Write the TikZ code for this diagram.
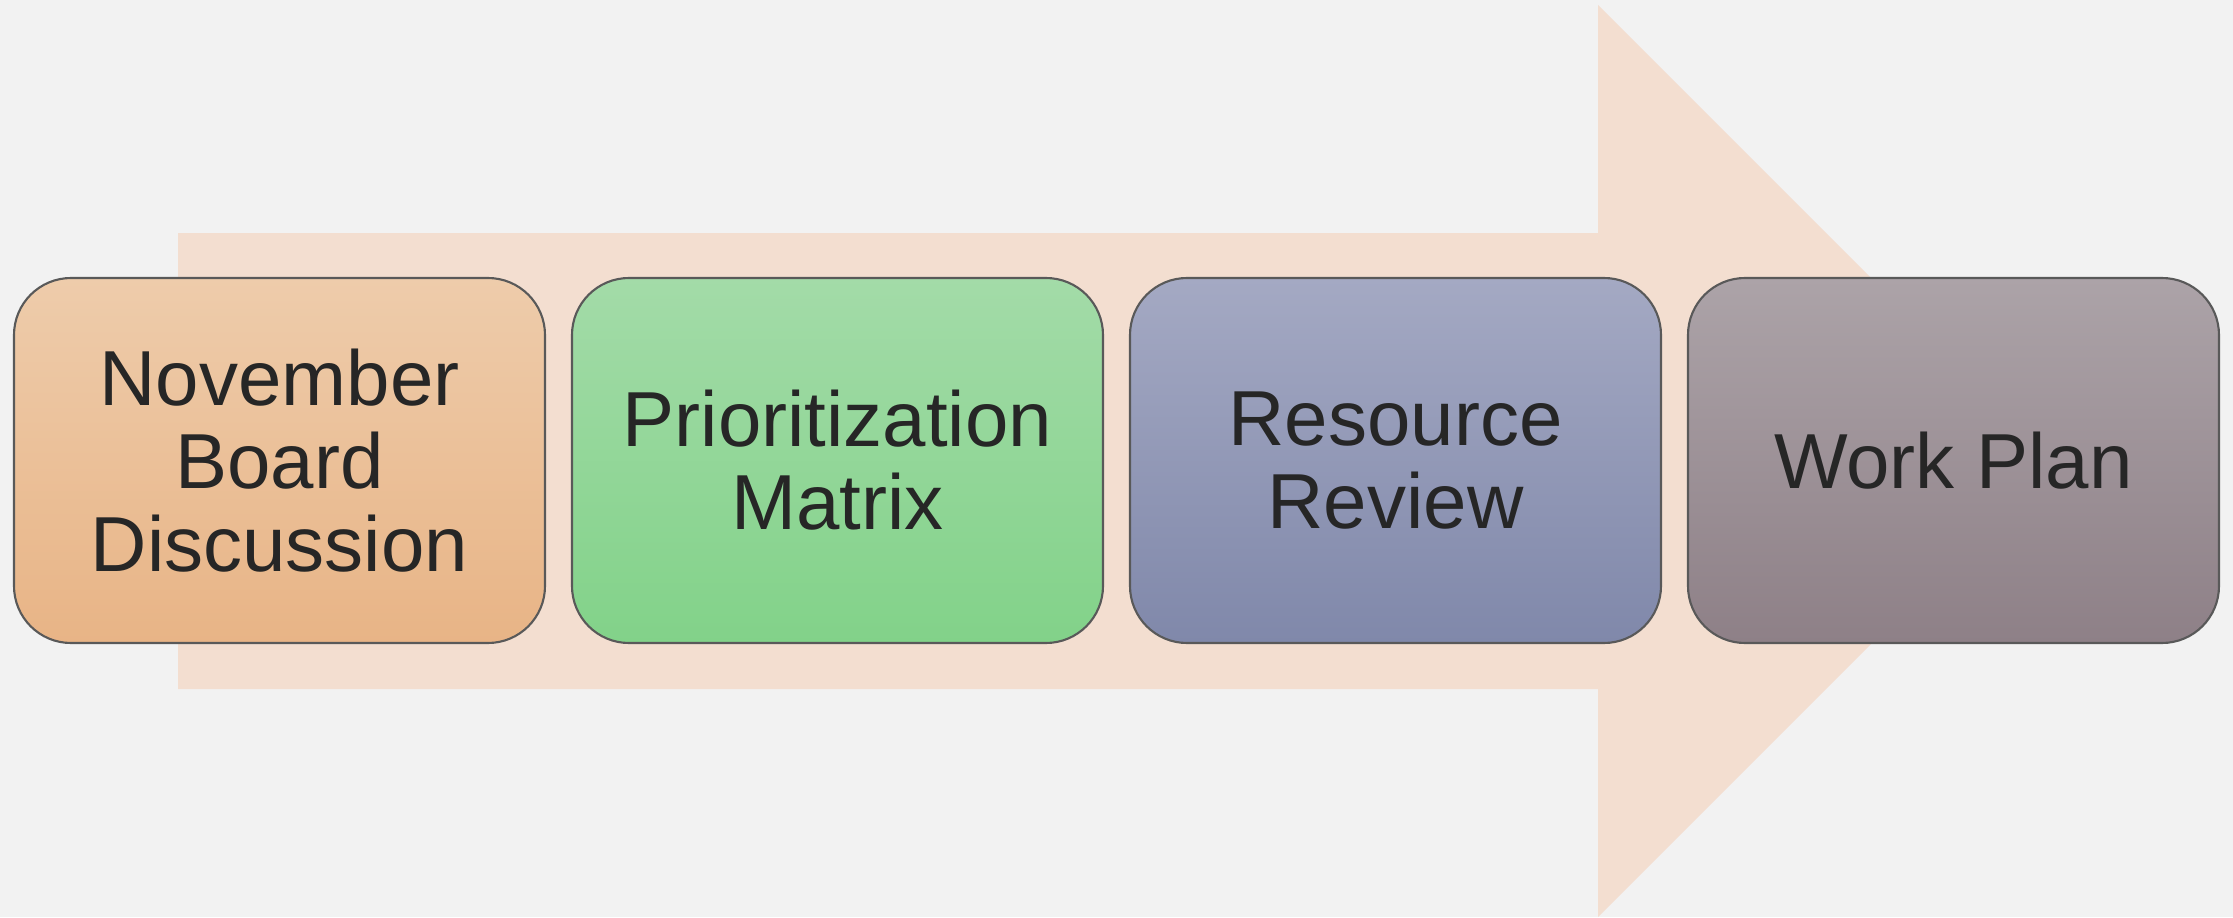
\documentclass[tikz,border=0pt]{standalone}
\usepackage{fontspec}
\setmainfont{Liberation Sans}
\usepackage{tikz}

\definecolor{bgGray}{HTML}{F2F2F2}
\definecolor{arrowPeach}{HTML}{F3DED0}
\definecolor{novTop}{HTML}{EECCAB}
\definecolor{novBot}{HTML}{E8B486}
\definecolor{prioTop}{HTML}{A3DBA8}
\definecolor{prioBot}{HTML}{82D289}
\definecolor{resTop}{HTML}{A4A9C3}
\definecolor{resBot}{HTML}{8088AA}
\definecolor{planTop}{HTML}{ACA3A8}
\definecolor{planBot}{HTML}{8E8087}
\definecolor{textGray}{HTML}{262626}

\begin{document}
\begin{tikzpicture}[
  stepbox/.style={rectangle, rounded corners=0.57cm, draw=black!65, line width=0.6pt,
    minimum width=5.31cm, minimum height=3.65cm, align=center, text=textGray,
    font=\fontsize{22.2}{23.6}\selectfont}
]

\fill[bgGray] (0, 0) rectangle (22.33, 9.17);

\fill[arrowPeach] (1.78, 2.28) -- (1.78, 6.84) -- (15.98, 6.84) -- (15.98, 9.12) -- (20.54, 4.56) -- (15.98, 0) -- (15.98, 2.28) -- cycle;


\node[stepbox, top color=novTop, bottom color=novBot] (nov) at (2.795, 4.565) {November\\Board\\Discussion};

\node[stepbox, top color=prioTop, bottom color=prioBot] (prio) at (8.375, 4.565) {Prioritization\\Matrix};

\node[stepbox, top color=resTop, bottom color=resBot] (res) at (13.955, 4.565) {Resource\\Review};

\node[stepbox, top color=planTop, bottom color=planBot] (plan) at (19.535, 4.565) {Work Plan};

\end{tikzpicture}
\end{document}
